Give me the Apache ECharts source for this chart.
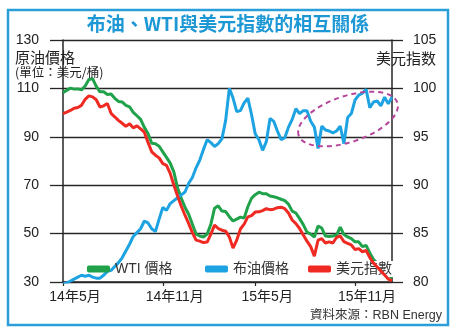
<!DOCTYPE html>
<html><head><meta charset="utf-8">
<script src="https://cdn.jsdelivr.net/npm/echarts@6/dist/echarts.min.js"></script>
<style>html,body{margin:0;padding:0;background:#fff}#c{width:456px;height:333px}</style>
</head><body><div id="c"></div>
<script>
// weekly observations, first week starting 2014-04-28
const startDate = '2014-04-28';
const greenSeries = [108.2,109.2,110.1,109.7,109.8,109.4,111.0,113.7,114.0,110.8,108.6,108.6,107.5,107.7,105.9,104.6,104.4,103.0,102.4,100.1,98.7,97.2,93.9,91.4,87.3,87.1,86.1,83.8,81.5,79.1,75.4,68.8,64.6,60.9,58.0,53.9,49.8,49.0,48.6,49.8,53.9,60.5,61.5,59.3,59.1,57.0,55.2,56.0,56.8,56.4,61.1,64.6,66.1,67.1,66.5,66.5,65.5,65.2,64.8,64.2,63.6,62.2,59.3,58.5,56.2,53.7,50.6,49.8,48.6,53.1,52.3,49.0,48.8,49.0,49.4,52.7,49.6,48.6,47.9,46.6,46.6,44.6,45.1,42.0,39.3,37.8,36.6,34.9,33.3,31.6];
const redSeries = [99.6,100.2,100.9,101.8,102.1,103.0,105.5,106.9,106.5,105.3,102.3,102.8,103.8,99.7,98.2,96.8,95.6,94.3,95.4,93.7,94.5,93.3,91.9,87.7,83.8,82.4,81.3,78.9,78.2,74.9,70.0,65.5,61.3,57.6,54.1,50.4,47.3,46.9,46.3,46.5,49.8,53.5,52.1,51.4,51.0,48.6,44.0,47.3,51.9,53.9,56.9,57.4,58.9,59.0,59.5,60.3,59.9,60.1,60.7,60.9,60.3,58.5,55.6,54.1,52.1,49.4,46.9,44.6,40.7,47.3,47.9,46.1,46.6,46.1,48.4,49.0,46.7,46.0,45.3,43.4,43.8,42.5,43.0,40.1,37.8,36.2,34.5,32.9,31.2,30.5];
const blueSeries = [79.8,79.9,80.1,80.3,80.5,80.7,80.6,80.7,80.5,80.4,80.4,80.7,81.1,81.2,81.6,82.0,82.5,83.2,83.9,84.7,85.1,85.5,86.3,86.1,85.5,85.2,86.5,87.7,87.4,88.1,88.4,88.7,89.0,89.3,90.2,90.8,91.8,92.6,93.7,94.7,94.4,94.0,94.3,94.8,96.7,100.0,99.0,97.6,97.7,98.5,99.0,97.3,95.3,94.7,93.6,94.5,96.9,96.6,95.6,94.7,94.9,96.0,96.8,97.9,97.4,97.7,97.7,96.6,96.0,93.8,96.1,95.7,95.6,95.4,95.6,96.1,94.3,97.0,97.4,98.8,99.3,99.5,99.9,98.0,98.6,98.7,98.2,99.1,98.4,99.1];
const seriesNames = ['WTI 價格', '布油價格', '美元指數'];
const xTickIndex = [0, 27, 52, 79];
const xTickLabels = ['14年5月', '14年11月', '15年5月', '15年11月'];
const leftTicks = {min: 30, max: 130, interval: 20};
const rightTicks = {min: 80, max: 105, interval: 5};

const categories = [];
const d0 = new Date(startDate + 'T00:00:00Z');
for (let i = 0; i < greenSeries.length; i++) {
  const d = new Date(d0.getTime() + i * 7 * 86400000);
  categories.push(d.toISOString().slice(0, 10));
}
const FONT = '"Liberation Sans", "Noto Sans CJK TC", sans-serif';
const C_GREEN = '#1fa24a', C_BLUE = '#1ea3e2', C_RED = '#ef2a22';
const AX = '#262626';

const chart = echarts.init(document.getElementById('c'), null, {renderer: 'canvas'});
const legendBase = {
  top: 261, orient: 'horizontal', itemWidth: 23, itemHeight: 7, itemGap: 0,
  icon: 'roundRect', padding: [1, 2, 1, 2],
  textStyle: {fontFamily: FONT, fontSize: 14, color: '#333', padding: [0, 0, 0, 0]},
  selectedMode: false
};
chart.setOption({
  backgroundColor: '#ffffff',
  animation: false,
  grid: {left: 63, right: 64, top: 40, bottom: 51, containLabel: false},
  xAxis: {
    type: 'category', data: categories, boundaryGap: false,
    axisLine: {show: true, lineStyle: {color: AX, width: 1.5}},
    axisTick: {show: true, length: 4, lineStyle: {color: AX, width: 1.2},
      interval: (idx) => xTickIndex.indexOf(idx) >= 0},
    axisLabel: {
      interval: (idx) => xTickIndex.indexOf(idx) >= 0,
      formatter: (v, idx) => { const k = xTickIndex.indexOf(idx); return k >= 0 ? xTickLabels[k] : ''; },
      fontFamily: FONT, fontSize: 14, color: '#222', margin: 8, padding: [0, 0, 0, 24]
    },
    splitLine: {show: false}
  },
  yAxis: [{
    type: 'value', position: 'left', min: leftTicks.min, max: leftTicks.max, interval: leftTicks.interval,
    axisLine: {show: true, lineStyle: {color: AX, width: 1.5}},
    axisTick: {show: true, length: 13, lineStyle: {color: AX, width: 1.3}},
    axisLabel: {fontFamily: FONT, fontSize: 14, color: '#222', margin: 24},
    splitLine: {show: true, lineStyle: {color: AX, width: 1.3}}
  }, {
    type: 'value', position: 'right', min: rightTicks.min, max: rightTicks.max, interval: rightTicks.interval,
    axisLine: {show: true, lineStyle: {color: AX, width: 1.5}},
    axisTick: {show: true, length: 11, lineStyle: {color: AX, width: 1.3}},
    axisLabel: {fontFamily: FONT, fontSize: 14, color: '#222', margin: 21},
    splitLine: {show: false}
  }],
  legend: [
    Object.assign({}, legendBase, {left: 85, data: [seriesNames[0]]}),
    Object.assign({}, legendBase, {left: 203, data: [seriesNames[1]]}),
    Object.assign({}, legendBase, {left: 306, data: [seriesNames[2]], backgroundColor: '#ffffff'})
  ],
  series: [
    {name: seriesNames[0], type: 'line', yAxisIndex: 0, data: greenSeries, showSymbol: false, symbol: 'none',
      lineStyle: {color: C_GREEN, width: 3}, itemStyle: {color: C_GREEN}, z: 3},
    {name: seriesNames[1], type: 'line', yAxisIndex: 1, data: blueSeries, showSymbol: false, symbol: 'none',
      lineStyle: {color: C_BLUE, width: 3}, itemStyle: {color: C_BLUE}, z: 3},
    {name: seriesNames[2], type: 'line', yAxisIndex: 0, data: redSeries, showSymbol: false, symbol: 'none',
      lineStyle: {color: C_RED, width: 3}, itemStyle: {color: C_RED}, z: 4}
  ],
  graphic: [
    {type: 'rect', shape: {x: 8, y: 10, width: 440, height: 315}, style: {fill: null, stroke: '#2a9ed8', lineWidth: 2.5}, z: 10, silent: true},
    {type: 'text', left: 'center', top: 14, style: {text: '布油、WTI與美元指數的相互關係', fill: '#1d98d5', font: 'bold 19px "Noto Sans CJK TC", sans-serif'}, z: 10},
    {type: 'text', x: 15, y: 50, style: {text: '原油價格', fill: '#222', font: '15px "Noto Sans CJK TC", sans-serif'}, z: 10},
    {type: 'text', x: 15, y: 66, style: {text: '(單位：美元/桶)', fill: '#222', font: '12.5px "Noto Sans CJK TC", sans-serif'}, z: 10},
    {type: 'text', x: 436, y: 51, style: {text: '美元指数', fill: '#222', align: 'right', font: '15px "Noto Sans CJK TC", sans-serif'}, z: 10},
    {type: 'text', x: 442, y: 309, style: {text: '資料來源：RBN Energy', fill: '#333', align: 'right', font: '12.5px "Liberation Sans", "Noto Sans CJK TC", sans-serif'}, z: 10},
    {type: 'ellipse', x: 348, y: 119, rotation: 0.32, shape: {cx: 0, cy: 0, rx: 52, ry: 23},
      style: {fill: null, stroke: '#b4469b', lineWidth: 2, lineDash: [5, 4]}, z: 10, silent: true}
  ]
});
</script></body></html>
